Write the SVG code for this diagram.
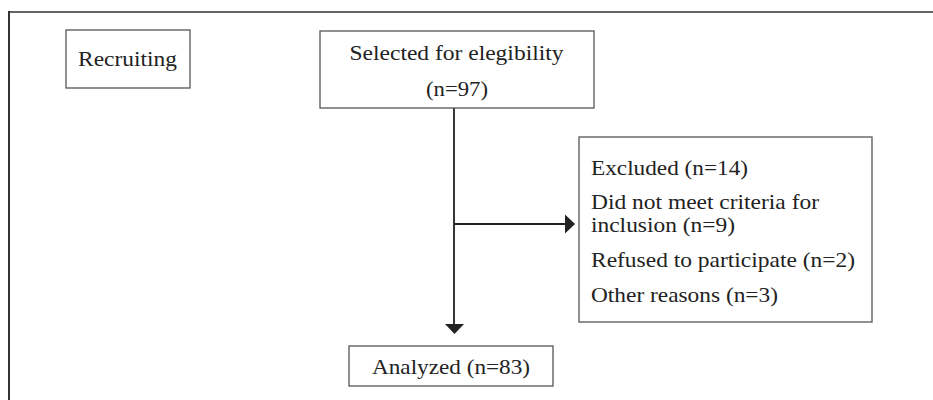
<svg xmlns="http://www.w3.org/2000/svg" width="933" height="400" viewBox="0 0 933 400">
<style>
.box{fill:#fff;stroke:#555;stroke-width:1.3}
.t{font-family:"Liberation Serif","Times New Roman",serif;font-size:21px;fill:#222}
.c{stroke:#222;stroke-width:1.8;fill:none}
</style>
<rect width="933" height="400" fill="#fff"/>
<g id="frame">
<line x1="9" y1="12" x2="933" y2="12" stroke="#666" stroke-width="2"/>
<line x1="9" y1="11" x2="9" y2="400" stroke="#333" stroke-width="2"/>
</g>
<g id="connectors">
<line class="c" x1="454" y1="108" x2="454" y2="324"/>
<path d="M445,324 L464,324 L454.5,334 Z" fill="#222"/>
<line class="c" x1="454" y1="224" x2="566" y2="224"/>
<path d="M565,214.5 L575,224 L565,233.5 Z" fill="#222"/>
</g>
<g id="recruiting">
<rect class="box" x="66" y="30" width="124" height="58"/>
<text class="t" x="78" y="66" textLength="99" lengthAdjust="spacingAndGlyphs">Recruiting</text>
</g>
<g id="selected">
<rect class="box" x="320" y="31" width="274" height="77"/>
<text class="t" x="349.5" y="60" textLength="214" lengthAdjust="spacingAndGlyphs">Selected for elegibility</text>
<text class="t" x="426" y="96" textLength="62" lengthAdjust="spacingAndGlyphs">(n=97)</text>
</g>
<g id="excluded">
<rect class="box" x="579" y="137" width="293" height="185"/>
<text class="t" x="591" y="175" textLength="157" lengthAdjust="spacingAndGlyphs">Excluded (n=14)</text>
<text class="t" x="591" y="209" textLength="228" lengthAdjust="spacingAndGlyphs">Did not meet criteria for</text>
<text class="t" x="591" y="232" textLength="144" lengthAdjust="spacingAndGlyphs">inclusion (n=9)</text>
<text class="t" x="591" y="267" textLength="264" lengthAdjust="spacingAndGlyphs">Refused to participate (n=2)</text>
<text class="t" x="591" y="302" textLength="187" lengthAdjust="spacingAndGlyphs">Other reasons (n=3)</text>
</g>
<g id="analyzed">
<rect class="box" x="349" y="346" width="204" height="40"/>
<text class="t" x="372" y="374" textLength="158" lengthAdjust="spacingAndGlyphs">Analyzed (n=83)</text>
</g>
</svg>
